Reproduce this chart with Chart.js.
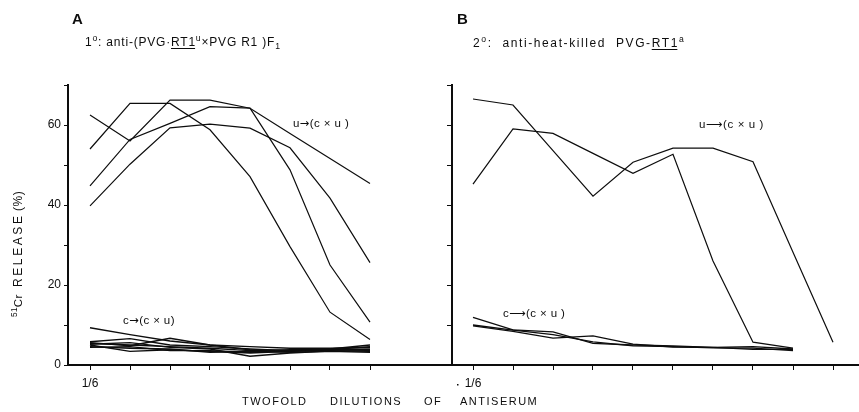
<!DOCTYPE html>
<html>
<head>
<meta charset="utf-8">
<script src="https://cdn.jsdelivr.net/npm/chart.js@4.4.1/dist/chart.umd.min.js"></script>
<style>
  html, body { margin: 0; padding: 0; background: #fff; }
</style>
</head>
<body>
<canvas id="myChart" width="859" height="412"></canvas>
<script>

var ink = "#0d0d0d";
var family = "'Liberation Sans', Arial, sans-serif";
var arrowFamily = "'DejaVu Sans', sans-serif";

// twofold dilution steps (1/6, 1/12, ...) for each panel
var stepsA = [0, 1, 2, 3, 4, 5, 6, 7];
var stepsB = [0, 1, 2, 3, 4, 5, 6, 7, 8, 9];
var firstDilution = "1/6";
var yTickLabels = [0, 20, 40, 60];

// panel A : u -> (c x u), % 51Cr release
var aU1 = [62.5, 56.0, 66.2, 66.2, 64.2, 57.9, 51.6, 45.4];
var aU2 = [54.0, 65.4, 65.4, 58.8, 47.1, 29.6, 13.2, 6.4];
var aU3 = [44.8, 56.4, 60.4, 64.6, 64.2, 48.8, 25.0, 10.7];
var aU4 = [39.8, 50.2, 59.3, 60.2, 59.2, 54.3, 41.7, 25.6];

// panel A : c -> (c x u)
var aC1 = [9.3, 7.6, 6.0, 5.0, 4.6, 4.2, 4.2, 4.4];
var aC2 = [5.8, 6.6, 5.0, 4.6, 4.0, 3.6, 4.0, 5.0];
var aC3 = [5.6, 4.8, 6.7, 5.0, 3.8, 3.4, 3.8, 4.6];
var aC4 = [5.2, 5.6, 4.4, 4.0, 2.2, 3.0, 3.5, 3.6];
var aC5 = [5.0, 3.4, 3.8, 3.4, 3.0, 3.4, 3.8, 4.0];
var aC6 = [4.6, 4.2, 4.0, 3.2, 3.4, 3.2, 3.4, 3.2];
var aC7 = [5.4, 5.0, 4.6, 4.2, 3.6, 3.8, 3.9, 3.8];
var aC8 = [4.4, 4.6, 3.6, 3.6, 3.2, 3.6, 3.6, 3.4];

// panel B : u -> (c x u)
var bU1 = [66.5, 65.0, 53.6, 42.2, 50.7, 54.2, 54.2, 50.8, 28.2, 5.7];
var bU2 = [45.2, 59.0, 57.9, 52.9, 47.9, 52.7, 26.0, 5.7, 4.2];

// panel B : c -> (c x u)
var bC1 = [11.9, 8.8, 8.3, 5.4, 5.0, 4.8, 4.4, 4.6, 4.0];
var bC2 = [9.8, 8.4, 6.7, 7.3, 5.2, 4.5, 4.4, 3.9, 3.9];
var bC3 = [10.0, 8.7, 7.6, 5.8, 4.8, 4.6, 4.3, 4.2, 3.6];

// where panel B starts on the shared dilution axis
var startB = 9.575;
var splitAt = 9.05;

function serie(values, start, width) {
  var pts = [];
  for (var i = 0; i < values.length; i++) {
    pts.push({ x: start + i, y: values[i] });
  }
  return {
    data: pts,
    borderColor: ink,
    borderWidth: width,
    pointRadius: 0,
    tension: 0,
    fill: false
  };
}

// draws a line of text made of pieces (superscript, subscript, underline)
function drawParts(ctx, parts, x, y, size, spacing) {
  spacing = spacing || 0;
  for (var i = 0; i < parts.length; i++) {
    var p = parts[i];
    var fs = p.s ? size * 0.72 : size;
    var dy = 0;
    if (p.s == "sup") dy = -size * 0.42;
    if (p.s == "sub") dy = size * 0.28;
    ctx.letterSpacing = (p.f ? 0 : spacing) + "px";
    ctx.font = (p.b ? "bold " : "") + fs + "px " + (p.f || family);
    ctx.fillText(p.t, x, y + dy);
    var w = ctx.measureText(p.t).width;
    if (p.u) ctx.fillRect(x, y + 2, w - spacing, 1);
    x += w + (p.f ? spacing : 0);
  }
  ctx.letterSpacing = "0px";
}

var labels = {
  id: "labels",
  afterDraw: function(chart) {
    var ctx = chart.ctx;
    ctx.save();
    ctx.fillStyle = ink;
    ctx.textBaseline = "alphabetic";
    ctx.textAlign = "left";

    // panel letters
    drawParts(ctx, [{ t: "A", b: true }], 72, 24, 15);
    drawParts(ctx, [{ t: "B", b: true }], 457, 24, 15);

    // subtitles
    drawParts(ctx, [
      { t: "1" }, { t: "o", s: "sup" }, { t: ": anti-(PVG·" }, { t: "RT1", u: true },
      { t: "u", s: "sup" }, { t: "×PVG R1 )F" }, { t: "1", s: "sub" }
    ], 85, 46, 12, 0.8);
    drawParts(ctx, [
      { t: "2" }, { t: "o", s: "sup" }, { t: ":  anti-heat-killed  PVG-" }, { t: "RT1", u: true },
      { t: "a", s: "sup" }
    ], 473, 47, 12, 1.6);

    // group labels
    drawParts(ctx, [{ t: "u" }, { t: "→", f: arrowFamily }, { t: "(c × u )" }], 293, 127, 11.5, 0.4);
    drawParts(ctx, [{ t: "c" }, { t: "→", f: arrowFamily }, { t: "(c × u)" }], 123, 324, 11.5, 0.4);
    drawParts(ctx, [{ t: "u" }, { t: "⟶", f: arrowFamily }, { t: "(c × u )" }], 699, 128, 11.5, 0.6);
    drawParts(ctx, [{ t: "c" }, { t: "⟶", f: arrowFamily }, { t: "(c × u )" }], 503, 317, 11.5, 0.4);

    // x axis title
    var words = [["TWOFOLD", 242], ["DILUTIONS", 330], ["OF", 424], ["ANTISERUM", 460]];
    for (var i = 0; i < words.length; i++) {
      drawParts(ctx, [{ t: words[i][0] }], words[i][1], 405, 11, 1.5);
    }

    // little dot before the second 1/6
    ctx.fillRect(457, 384, 1.5, 1.5);

    // y axis title, rotated
    ctx.translate(22, 317);
    ctx.rotate(-Math.PI / 2);
    drawParts(ctx, [{ t: "51", s: "sup" }, { t: "Cr" }], 0, 0, 11.5, 0.3);
    drawParts(ctx, [{ t: "RELEASE" }], 30, 0, 12, 2.6);
    drawParts(ctx, [{ t: "(%)" }], 106, 0, 12, 0.5);
    ctx.restore();
  }
};

function init() {
  var sets = [];
  [aU1, aU2, aU3, aU4].forEach(function(v) { sets.push(serie(v, 0, 1.2)); });
  [aC1, aC2, aC3, aC4, aC5, aC6, aC7, aC8].forEach(function(v) { sets.push(serie(v, 0, 1.4)); });
  [bU1, bU2].forEach(function(v) { sets.push(serie(v, startB, 1.2)); });
  [bC1, bC2, bC3].forEach(function(v) { sets.push(serie(v, startB, 1.3)); });

  var ctx = document.getElementById("myChart").getContext("2d");
  var myChart = new Chart(ctx, {
    type: "line",
    data: { datasets: sets },
    options: {
      responsive: false,
      animation: false,
      devicePixelRatio: 1,
      layout: { padding: { top: 85, left: 0, right: 0, bottom: 0 } },
      plugins: {
        legend: { display: false },
        tooltip: { enabled: false }
      },
      scales: {
        x: {
          type: "linear",
          min: -0.55,
          max: 19.225,
          afterBuildTicks: function(scale) {
            var t = [];
            stepsA.forEach(function(i) { t.push({ value: i }); });
            stepsB.forEach(function(i) { t.push({ value: startB + i }); });
            scale.ticks = t;
          },
          afterFit: function(scale) { scale.height = 47; },
          ticks: {
            autoSkip: false,
            maxRotation: 0,
            padding: 6,
            color: ink,
            font: { family: family, size: 12 },
            callback: function(value, index) {
              return (index == 0 || index == stepsA.length) ? firstDilution : "";
            }
          },
          grid: { drawOnChartArea: false, drawTicks: true, tickLength: 5, color: ink, lineWidth: 1 },
          border: { color: ink, width: 2 }
        },
        y: {
          min: 0,
          max: 70,
          position: "left",
          afterFit: function(scale) { scale.width = 68; },
          ticks: {
            stepSize: 10,
            padding: 3,
            color: ink,
            font: { family: family, size: 12 },
            callback: function(value) {
              return yTickLabels.indexOf(value) >= 0 ? value : "";
            }
          },
          grid: { drawOnChartArea: false, tickLength: 4, color: ink, lineWidth: 1 },
          border: { color: ink, width: 2 }
        },
        yB: {
          axis: "y",
          min: 0,
          max: 70,
          position: { x: splitAt },
          ticks: { stepSize: 10, callback: function() { return ""; } },
          grid: { drawOnChartArea: false, tickLength: 4, color: ink, lineWidth: 1 },
          border: { color: ink, width: 2 }
        }
      }
    },
    plugins: [labels]
  });
}

init();
</script>
</body>
</html>
